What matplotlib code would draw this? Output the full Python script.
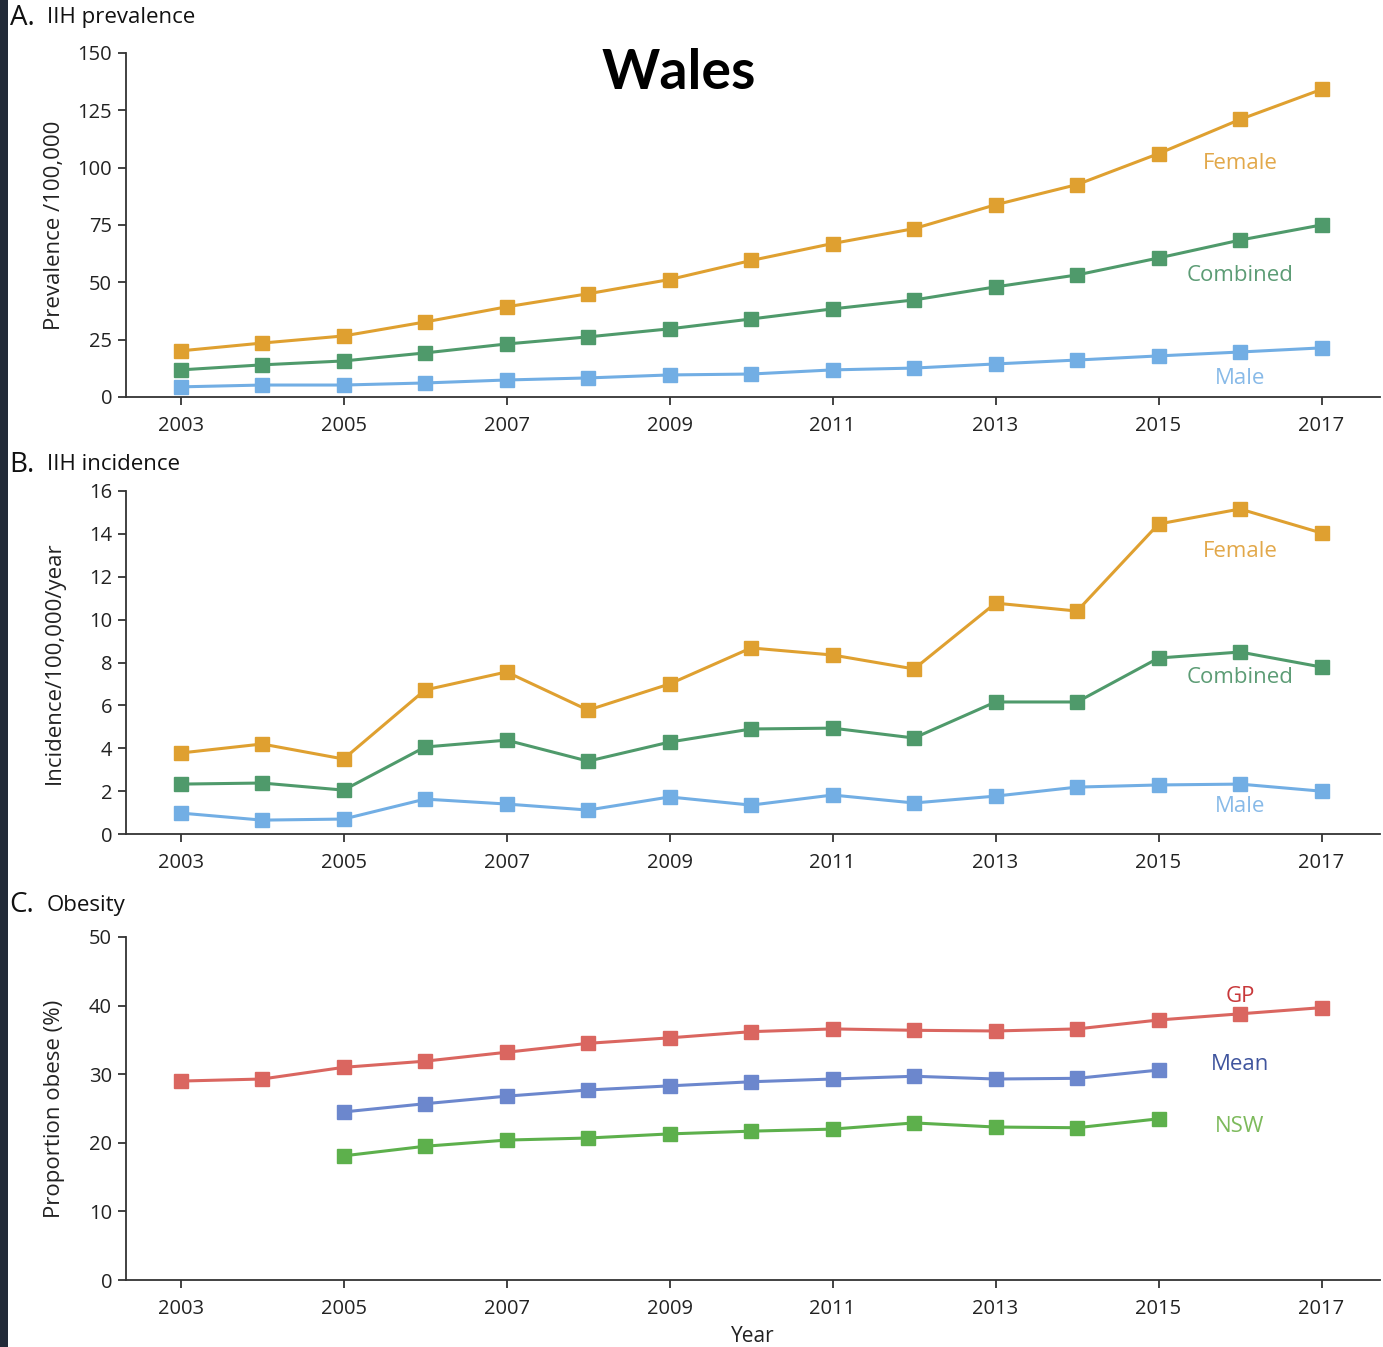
"""
IIH prevalence, incidence and obesity in Wales, 2003-2017: three stacked line panels.
"""

import matplotlib.pyplot as plt
from matplotlib.patches import Rectangle

plt.rcParams["font.family"] = ["Open Sans", "DejaVu Sans"]

YEARS = list(range(2003, 2018))
YEARS_OBESE = list(range(2005, 2016))

# A. prevalence /100,000
PREV_FEMALE = [20.1, 23.5, 26.6, 32.7, 39.3, 45.0, 51.2, 59.5, 66.9, 73.4, 83.8, 92.6, 106.1, 121.0, 134.1]
PREV_COMBINED = [11.8, 14.0, 15.7, 19.2, 23.1, 26.2, 29.7, 34.0, 38.4, 42.3, 48.0, 53.2, 60.6, 68.4, 75.0]
PREV_MALE = [4.4, 5.2, 5.2, 6.1, 7.4, 8.3, 9.6, 10.0, 11.8, 12.6, 14.4, 16.1, 17.9, 19.6, 21.4]

# B. incidence /100,000/year
INC_FEMALE = [3.78, 4.2, 3.5, 6.72, 7.56, 5.78, 7.0, 8.68, 8.35, 7.70, 10.77, 10.40, 14.46, 15.16, 14.04]
INC_COMBINED = [2.33, 2.38, 2.05, 4.06, 4.38, 3.40, 4.29, 4.90, 4.94, 4.48, 6.16, 6.16, 8.21, 8.49, 7.79]
INC_MALE = [0.98, 0.65, 0.70, 1.63, 1.40, 1.12, 1.73, 1.35, 1.82, 1.45, 1.77, 2.19, 2.29, 2.33, 2.00]

# C. proportion obese (%)
OBESE_GP = [29.0, 29.3, 31.0, 31.9, 33.2, 34.5, 35.3, 36.2, 36.6, 36.4, 36.3, 36.6, 37.9, 38.8, 39.7]
OBESE_MEAN = [24.5, 25.7, 26.8, 27.7, 28.3, 28.9, 29.3, 29.7, 29.3, 29.4, 30.6]
OBESE_NSW = [18.1, 19.5, 20.4, 20.7, 21.3, 21.7, 22.0, 22.9, 22.3, 22.2, 23.5]

C_FEMALE = "#DFA030"
C_COMBINED = "#4F9A6B"
C_MALE = "#72AEE4"
C_GP = "#DA6660"
C_MEAN = "#6C87CD"
C_NSW = "#5DB04C"


def style_axis(ax, ylim, yticks, ylabel):
    ax.set_xlim(2002.33, 2017.72)
    ax.set_ylim(*ylim)
    ax.set_yticks(yticks)
    ax.set_xticks(range(2003, 2018, 2))
    for side in ("top", "right"):
        ax.spines[side].set_visible(False)
    for side in ("left", "bottom"):
        ax.spines[side].set_linewidth(1.3)
        ax.spines[side].set_color("#333333")
    ax.tick_params(direction="out", length=6, width=1.2, labelsize=14.5,
                   colors="#222222")
    ax.tick_params(axis="y", pad=4)
    ax.tick_params(axis="x", pad=7.5)
    ax.set_ylabel(ylabel, fontsize=16, color="#222222")
    ax.yaxis.set_label_coords(-0.049, 0.5)


def line(ax, x, y, color):
    ax.plot(x, y, color=color, lw=2.2, marker="s", ms=9.5, mec=color, mfc=color, clip_on=False)


fig = plt.figure(figsize=(13.83, 13.47), dpi=100)

axA = fig.add_axes([0.0911, 0.7053, 0.9069, 0.2554])
axB = fig.add_axes([0.0911, 0.3808, 0.9069, 0.2547])
axC = fig.add_axes([0.0911, 0.0497, 0.9069, 0.2547])

line(axA, YEARS, PREV_FEMALE, C_FEMALE)
line(axA, YEARS, PREV_COMBINED, C_COMBINED)
line(axA, YEARS, PREV_MALE, C_MALE)
style_axis(axA, (0, 150), range(0, 151, 25), "Prevalence /100,000")
axA.text(2016, 102, "Female", color="#E2A84A", fontsize=16, ha="center", va="center")
axA.text(2016, 53.0, "Combined", color="#5C9C75", fontsize=16, ha="center", va="center")
axA.text(2016, 8.2, "Male", color="#88BAE8", fontsize=16, ha="center", va="center")

line(axB, YEARS, INC_FEMALE, C_FEMALE)
line(axB, YEARS, INC_COMBINED, C_COMBINED)
line(axB, YEARS, INC_MALE, C_MALE)
style_axis(axB, (0, 16), range(0, 17, 2), "Incidence/100,000/year")
axB.text(2016, 13.2, "Female", color="#E2A84A", fontsize=16, ha="center", va="center")
axB.text(2016, 7.3, "Combined", color="#5C9C75", fontsize=16, ha="center", va="center")
axB.text(2016, 1.3, "Male", color="#88BAE8", fontsize=16, ha="center", va="center")

line(axC, YEARS, OBESE_GP, C_GP)
line(axC, YEARS_OBESE, OBESE_MEAN, C_MEAN)
line(axC, YEARS_OBESE, OBESE_NSW, C_NSW)
style_axis(axC, (0, 50), range(0, 51, 10), "Proportion obese (%)")
axC.set_xlabel("Year", fontsize=15, color="#222222", labelpad=5)
axC.text(2016, 41.3, "GP", color="#C8383A", fontsize=16, ha="center", va="center")
axC.text(2016, 31.4, "Mean", color="#40559E", fontsize=16, ha="center", va="center")
axC.text(2016, 22.4, "NSW", color="#7DBA5C", fontsize=16, ha="center", va="center")

# panel headings
for y, letter, name in [(0.987, "A.", "IIH prevalence"),
                        (0.655, "B.", "IIH incidence"),
                        (0.328, "C.", "Obesity")]:
    fig.text(0.007, y, letter, fontsize=20, color="#111111", va="center")
    fig.text(0.034, y, name, fontsize=16, color="#111111", va="center")

fig.text(0.491, 0.946, "Wales", fontsize=40, fontweight="bold", family=["Lato", "DejaVu Sans"],
         color="black", ha="center", va="center")

# dark strip on the left edge of the screenshot
fig.add_artist(Rectangle((0, 0), 0.0058, 1, transform=fig.transFigure,
                         facecolor="#222a38", edgecolor="none"))

fig.savefig("out.png", dpi=100, facecolor="white")
plt.close(fig)
